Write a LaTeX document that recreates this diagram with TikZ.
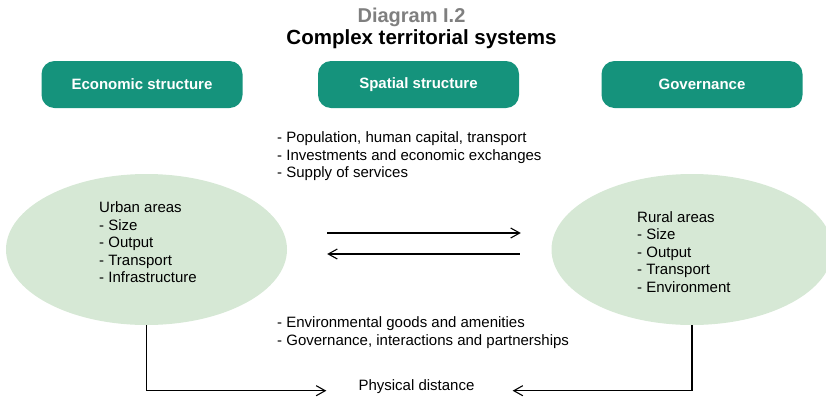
\documentclass[tikz,border=0pt]{standalone}
\usepackage{fontspec}
\setmainfont{Liberation Sans}
\usetikzlibrary{shapes.geometric,arrows.meta}

\definecolor{headgreen}{HTML}{15937C}
\definecolor{areagreen}{HTML}{D6E8D5}
\definecolor{titlegray}{HTML}{7F7F7F}

\begin{document}
\begin{tikzpicture}[x=1pt,y=-1pt,
  header/.style={fill=headgreen, rounded corners=13pt, minimum width=201pt,
    minimum height=47pt, inner sep=0pt, text=white,
    font=\fontsize{15}{18}\selectfont\bfseries},
  area/.style={ellipse, fill=areagreen, minimum width=281pt,
    minimum height=151pt, inner sep=0pt},
  txt/.style={align=left, anchor=north west, inner sep=0pt,
    font=\fontsize{15}{17.5}\selectfont},
  flow/.style={-{Straight Barb[length=9pt,width=10pt]}, line width=1.1pt}
]
\path[use as bounding box] (0,0) rectangle (826,397);

% title
\node[anchor=base, text=titlegray, font=\fontsize{20}{24}\selectfont\bfseries]
  (title) at (411.5,22.5) {Diagram I.2};
\node[anchor=base, font=\fontsize{20.5}{25}\selectfont\bfseries]
  (subtitle) at (421.5,44) {Complex territorial systems};

% three headings
\node[header] (econ) at (142,84.5) {Economic structure};
\node[header] (spat) at (418.5,84.5) {Spatial structure};
\node[header] (gov)  at (702,84.5) {Governance};

% urban and rural areas
\node[area] (urban) at (146.5,249.5) {};
\node[area] (rural) at (692,249.5) {};
\node[txt] (urbantxt) at (99,201.5)
  {Urban areas\\- Size\\- Output\\- Transport\\- Infrastructure};
\node[txt] (ruraltxt) at (637,211)
  {Rural areas\\- Size\\- Output\\- Transport\\- Environment};

% flows between the areas
\node[txt] (flowsup) at (277,131.5)
  {- Population, human capital, transport\\- Investments and economic exchanges\\- Supply of services};
\node[txt] (flowsdown) at (277,316.5)
  {- Environmental goods and amenities\\- Governance, interactions and partnerships};

\draw[flow, shorten <=40pt, shorten >=30.5pt]
  ([yshift=16.5pt]urban.east) -- ([yshift=16.5pt]rural.west);
\draw[flow, shorten <=31.5pt, shorten >=40pt]
  ([yshift=-4.5pt]rural.west) -- ([yshift=-4.5pt]urban.east);

% physical distance
\node[inner sep=0pt, text height=5pt, text depth=5pt,
  font=\fontsize{15}{18}\selectfont] (dist) at (416.5,390.7) {Physical distance};
\draw[flow] (urban.south) |- ([xshift=-32pt]dist.west);
\draw[flow] (rural.south) |- ([xshift=38pt]dist.east);
\end{tikzpicture}
\end{document}
